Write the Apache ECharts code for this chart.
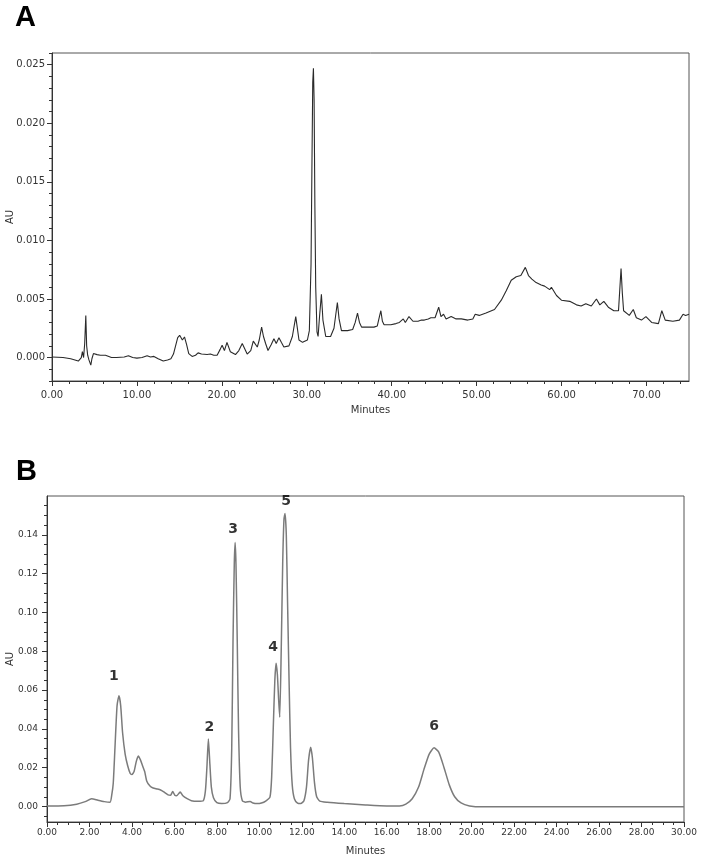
<!DOCTYPE html>
<html>
<head>
<meta charset="utf-8">
<script src="https://cdn.jsdelivr.net/npm/echarts@6/dist/echarts.min.js"></script>
<style>
html,body{margin:0;padding:0;background:#fff;}
#chart{width:702px;height:860px;}
</style>
</head>
<body>
<div id="chart"></div>
<script>
// ---------- Panel A data (retention time, min / absorbance, AU) ----------
const timesA = [0,1.3,2.2,3.1,3.45,3.58,3.72,3.85,3.98,4.08,4.2,4.35,4.57,4.7,4.88,5.3,5.7,6.3,6.5,7.0,7.6,8.5,9.0,9.5,10.0,10.6,11.2,11.6,12.0,12.5,13.1,13.6,14.0,14.3,14.55,14.8,15.03,15.35,15.6,15.85,16.1,16.5,16.9,17.2,17.6,18.26,18.65,19.05,19.44,19.8,20.03,20.3,20.6,21.0,21.6,22.0,22.4,22.98,23.4,23.7,24.17,24.4,24.68,24.9,25.15,25.43,25.8,26.13,26.4,26.72,27.0,27.3,27.9,28.3,28.7,29.08,29.5,30.07,30.3,30.5,30.6,30.7,30.78,30.86,30.95,31.05,31.2,31.33,31.5,31.72,31.9,32.23,32.8,33.2,33.6,33.8,34.08,34.8,35.4,35.7,35.97,36.2,36.45,37.0,37.9,38.3,38.55,38.72,38.9,39.1,39.9,40.5,40.9,41.36,41.6,42.03,42.5,43.1,43.5,43.84,44.3,44.6,45.1,45.53,45.8,46.1,46.4,47.0,47.58,48.2,48.96,49.55,49.83,50.3,51.1,52.1,52.9,53.48,54.07,54.66,55.2,55.73,56.1,56.5,57.0,57.6,58.0,58.2,58.6,58.8,59.4,59.98,60.96,61.75,62.3,62.85,63.5,64.1,64.5,64.97,65.5,66.15,66.7,66.85,67.0,67.15,67.3,67.97,68.44,68.8,69.4,69.93,70.6,71.4,71.8,72.2,73.1,73.87,74.3,74.6,75.0];
const auA = [0.00005,0.0,-0.0001,-0.0003,0.0,0.0005,0.0,0.0012,0.0036,0.0010,0.0002,-0.0002,-0.00065,-0.0001,0.00034,0.00025,0.0002,0.0002,0.00025,0.0,0.0,0.00005,0.00015,0.0,-0.00005,0.0,0.00015,0.00005,0.0001,-0.0001,-0.0003,-0.0002,-0.0001,0.0003,0.0010,0.0017,0.0019,0.0015,0.00176,0.0011,0.00034,0.0001,0.0002,0.0004,0.0003,0.00026,0.0003,0.0002,0.0002,0.0007,0.00105,0.0006,0.0013,0.0005,0.00026,0.0006,0.0012,0.0003,0.0006,0.0014,0.0009,0.0015,0.0026,0.0018,0.0012,0.0006,0.0011,0.0016,0.0012,0.0017,0.0013,0.0009,0.0010,0.0018,0.0035,0.0015,0.0013,0.0015,0.0023,0.008,0.016,0.0235,0.0247,0.022,0.013,0.006,0.0022,0.0018,0.0035,0.0054,0.0032,0.0018,0.0018,0.0025,0.0047,0.0033,0.0023,0.0023,0.0024,0.003,0.0038,0.003,0.0026,0.0026,0.0026,0.0027,0.0035,0.004,0.0031,0.0028,0.0028,0.0029,0.003,0.0033,0.003,0.0035,0.0031,0.0031,0.0032,0.0032,0.0033,0.0034,0.0034,0.0043,0.0035,0.0037,0.0033,0.0035,0.0033,0.0033,0.0032,0.0033,0.0037,0.0036,0.0038,0.0041,0.0049,0.0057,0.0066,0.0069,0.007,0.0077,0.0070,0.0067,0.0064,0.0062,0.0061,0.0062,0.0058,0.006,0.0053,0.0049,0.0048,0.0045,0.0044,0.0046,0.0044,0.005,0.0045,0.0048,0.0043,0.004,0.004,0.0058,0.0076,0.0055,0.004,0.0036,0.0041,0.0034,0.0032,0.0035,0.003,0.0029,0.004,0.0032,0.0031,0.0032,0.0037,0.0036,0.0037];

// ---------- Panel B data ----------
const timesB = [0,0.8,1.4,1.8,2.1,2.4,2.7,2.97,3.05,3.12,3.2,3.3,3.39,3.47,3.56,3.68,3.8,3.92,4.0,4.1,4.2,4.3,4.4,4.5,4.6,4.7,4.85,5.0,5.2,5.35,5.5,5.7,5.82,5.92,6.02,6.1,6.27,6.4,6.6,6.8,7.1,7.36,7.46,7.53,7.6,7.67,7.74,7.84,8.0,8.23,8.5,8.62,8.7,8.76,8.82,8.86,8.9,8.96,9.02,9.1,9.2,9.35,9.57,9.7,9.9,10.1,10.3,10.5,10.58,10.66,10.73,10.79,10.85,10.91,10.96,11.03,11.1,11.16,11.21,11.27,11.33,11.4,11.47,11.55,11.65,11.8,11.95,12.1,12.22,12.32,12.42,12.5,12.6,12.7,12.85,13.2,14.0,15.0,16.0,16.6,16.9,17.2,17.5,17.75,18.0,18.23,18.45,18.7,18.95,19.2,19.5,19.9,20.5,25.0,30.0];
const auB = [0.0003,0.0004,0.0012,0.0025,0.004,0.0032,0.0025,0.0022,0.006,0.012,0.03,0.052,0.057,0.052,0.038,0.027,0.021,0.017,0.0165,0.018,0.023,0.026,0.024,0.021,0.018,0.013,0.0105,0.0095,0.009,0.0085,0.0075,0.006,0.0058,0.0077,0.0058,0.0055,0.0074,0.0055,0.004,0.003,0.0027,0.003,0.008,0.02,0.0348,0.022,0.01,0.0045,0.002,0.0015,0.002,0.004,0.03,0.085,0.125,0.136,0.125,0.085,0.04,0.01,0.003,0.0022,0.0026,0.0018,0.0015,0.0018,0.0028,0.0048,0.015,0.042,0.065,0.0738,0.068,0.055,0.046,0.08,0.125,0.148,0.151,0.14,0.105,0.065,0.03,0.011,0.004,0.0017,0.0015,0.003,0.01,0.024,0.0305,0.025,0.012,0.005,0.0028,0.0022,0.0015,0.0008,0.0003,0.0003,0.0012,0.004,0.010,0.019,0.027,0.0302,0.028,0.02,0.011,0.005,0.0018,0.0003,-0.0002,-0.0002,-0.0002];

// Peak annotations (panel B)
const peakLabels = ['1','2','3','4','5','6'];
const peakTimes  = [3.39, 7.6, 8.86, 10.79, 11.21, 18.23];
const peakAU     = [0.057, 0.0348, 0.136, 0.0738, 0.151, 0.0302];

// Tick labels
const xTicksA = [0,10,20,30,40,50,60,70];
const yTicksA = [0,0.005,0.010,0.015,0.020,0.025];
const xTicksB = [0,2,4,6,8,10,12,14,16,18,20,22,24,26,28,30];
const yTicksB = [0,0.02,0.04,0.06,0.08,0.10,0.12,0.14];

// ---------- build ----------
function range(a, b, step, dec) {
  const out = [];
  for (let v = a; v <= b + step / 1000; v += step) out.push(+v.toFixed(dec));
  return out;
}
const minorXA = range(0, 74, 2, 3);
const minorYA = range(-0.002, 0.026, 0.001, 4);
const minorXB = range(0, 30, 0.5, 2);
const minorYB = range(-0.005, 0.155, 0.005, 4);

const FONT = 'DejaVu Sans';
const AX = '#333';

function mainX(grid, min, max, ticks, dec, size, margin, nameGap) {
  return {
    type: 'value', gridIndex: grid, min: min, max: max, position: 'bottom',
    name: 'Minutes', nameLocation: 'middle', nameGap: nameGap, nameMoveOverlap: false,
    nameTextStyle: {fontFamily: FONT, fontSize: 10, color: '#333'},
    axisLine: {show: true, onZero: false, lineStyle: {color: AX, width: 1}},
    axisTick: {show: true, customValues: ticks, length: 5, lineStyle: {color: AX}},
    axisLabel: {show: true, customValues: ticks, margin: margin, fontFamily: FONT, fontSize: size, color: '#333',
      formatter: v => v.toFixed(dec)},
    splitLine: {show: false}
  };
}
function minorX(grid, min, max, ticks) {
  return {
    type: 'value', gridIndex: grid, min: min, max: max, position: 'bottom',
    axisLine: {show: false, onZero: false},
    axisTick: {show: true, customValues: ticks, length: 3, lineStyle: {color: AX}},
    axisLabel: {show: false}, splitLine: {show: false}
  };
}
function mainY(grid, min, max, ticks, dec, size, margin, nameGap) {
  return {
    type: 'value', gridIndex: grid, min: min, max: max, position: 'left',
    name: 'AU', nameLocation: 'middle', nameGap: nameGap, nameMoveOverlap: false,
    nameTextStyle: {fontFamily: FONT, fontSize: 10, color: '#333'},
    axisLine: {show: true, onZero: false, lineStyle: {color: AX, width: 1}},
    axisTick: {show: true, customValues: ticks, length: 5, lineStyle: {color: AX}},
    axisLabel: {show: true, customValues: ticks, margin: margin, fontFamily: FONT, fontSize: size, color: '#333',
      formatter: v => v.toFixed(dec)},
    splitLine: {show: false}
  };
}
function minorY(grid, min, max, ticks) {
  return {
    type: 'value', gridIndex: grid, min: min, max: max, position: 'left',
    axisLine: {show: false, onZero: false},
    axisTick: {show: true, customValues: ticks, length: 3, lineStyle: {color: AX}},
    axisLabel: {show: false}, splitLine: {show: false}
  };
}

const dataA = timesA.map((t, i) => [t, auA[i]]);
const dataB = timesB.map((t, i) => [t, auB[i]]);

// label nudges (dx, dy in px) for the peak numbers
const nudges = [[-5, -12], [1, -5], [-2, -6], [-3, -9], [1, -5], [0, -14]];
const peakData = peakTimes.map((t, i) => ({
  value: [t, peakAU[i]], name: peakLabels[i],
  label: {offset: [nudges[i][0], nudges[i][1]]}
}));

const option = {
  backgroundColor: '#fff',
  animation: false,
  graphic: [
    {type: 'text', left: 15, top: 3, style: {text: 'A', font: 'bold 29px "Liberation Sans"', fill: '#000'}},
    {type: 'text', left: 16, top: 457, style: {text: 'B', font: 'bold 29px "Liberation Sans"', fill: '#000'}}
  ],
  grid: [
    {left: 52, top: 53, width: 637, height: 328, containLabel: false, outerBoundsMode: 'none',
      show: true, borderColor: '#555', borderWidth: 1, backgroundColor: 'transparent'},
    {left: 47, top: 496, width: 637, height: 326, containLabel: false, outerBoundsMode: 'none',
      show: true, borderColor: '#555', borderWidth: 1, backgroundColor: 'transparent'}
  ],
  xAxis: [
    mainX(0, 0, 75, xTicksA, 2, 10, 9, 24),
    minorX(0, 0, 75, minorXA),
    mainX(1, 0, 30, xTicksB, 2, 9, 6, 24),
    minorX(1, 0, 30, minorXB)
  ],
  yAxis: [
    mainY(0, -0.002, 0.026, yTicksA, 3, 10, 7, 37),
    minorY(0, -0.002, 0.026, minorYA),
    mainY(1, -0.008, 0.16, yTicksB, 2, 9, 9, 32),
    minorY(1, -0.008, 0.16, minorYB)
  ],
  series: [
    {type: 'line', xAxisIndex: 0, yAxisIndex: 0, data: dataA, showSymbol: false, symbol: 'none',
      lineStyle: {color: '#2a2a2a', width: 1.1}},
    {type: 'line', xAxisIndex: 2, yAxisIndex: 2, data: dataB, showSymbol: false, symbol: 'none',
      smooth: 0.2,
      lineStyle: {color: '#7b7b7b', width: 1.5}},
    {type: 'scatter', xAxisIndex: 2, yAxisIndex: 2, data: peakData, symbolSize: 0.1,
      itemStyle: {color: 'transparent'}, silent: true,
      label: {show: true, position: 'top', distance: 0, formatter: p => p.name,
        fontFamily: FONT, fontWeight: 'bold', fontSize: 14, color: '#000'}}
  ]
};

const chart = echarts.init(document.getElementById('chart'), null, {renderer: 'canvas'});
chart.setOption(option);
</script>
</body>
</html>
